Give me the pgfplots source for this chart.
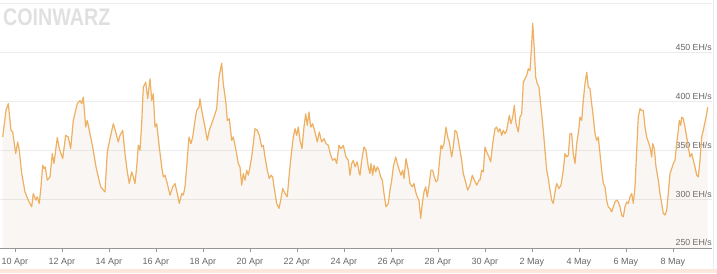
\documentclass[border=0pt]{standalone}
\usepackage{pgfplots}
\pgfplotsset{compat=1.18}
\usepackage{pgfplotstable}
\usepackage{fontspec}
\setmainfont{Liberation Sans}
\definecolor{linec}{RGB}{238,176,98}
\definecolor{fillc}{RGB}{190,160,130}
\definecolor{gridc}{RGB}{236,236,236}
\definecolor{axisc}{RGB}{150,150,150}
\definecolor{labc}{RGB}{102,102,102}
\definecolor{peach}{RGB}{251,231,220}
\pgfplotstableread{
d v
-0.523 363.6
-0.383 390.8
-0.285 397.7
-0.170 370.4
-0.098 368.7
0.030 346.6
0.115 358.5
0.183 350.0
0.285 326.5
0.426 307.4
0.566 299.0
0.711 292.1
0.779 305.8
0.881 299.0
0.949 302.3
1.034 295.6
1.106 312.6
1.179 334.7
1.247 331.3
1.289 333.0
1.374 319.4
1.489 322.8
1.587 346.6
1.660 336.4
1.800 363.0
1.885 351.7
2.030 341.5
2.157 365.3
2.268 363.6
2.370 351.7
2.481 380.6
2.651 397.7
2.766 401.0
2.838 397.7
2.906 404.4
3.009 373.8
3.077 380.6
3.191 367.0
3.306 353.4
3.447 333.0
3.545 322.8
3.647 312.6
3.830 307.4
3.928 348.3
4.043 361.9
4.183 377.2
4.285 368.7
4.396 358.5
4.468 365.3
4.583 370.4
4.681 346.6
4.779 327.9
4.864 316.0
4.966 327.9
5.034 322.8
5.106 316.0
5.179 333.0
5.247 355.1
5.319 350.0
5.391 377.2
5.460 414.6
5.562 419.7
5.647 402.8
5.745 423.2
5.817 401.0
5.885 407.9
5.957 373.8
6.030 377.2
6.140 353.4
6.243 333.0
6.311 322.8
6.383 324.5
6.481 316.0
6.596 304.1
6.711 312.6
6.809 316.0
6.906 305.8
6.991 295.6
7.094 305.8
7.162 304.1
7.234 312.6
7.306 333.0
7.404 363.6
7.489 356.8
7.562 363.6
7.660 380.6
7.732 390.8
7.830 394.2
7.872 402.8
7.945 390.8
8.085 373.8
8.183 360.2
8.268 370.4
8.370 377.2
8.468 384.0
8.583 392.6
8.681 424.8
8.796 439.1
8.864 418.1
8.979 397.7
9.034 380.6
9.119 382.3
9.221 360.2
9.289 363.6
9.404 350.0
9.502 336.4
9.574 333.0
9.647 314.3
9.715 326.2
9.787 319.4
9.860 329.6
9.928 324.5
10.000 333.0
10.072 343.2
10.140 356.8
10.213 372.1
10.311 370.4
10.396 365.3
10.498 353.4
10.566 355.1
10.638 343.2
10.736 329.6
10.821 321.1
10.894 324.5
10.966 322.8
11.034 310.9
11.136 295.6
11.234 290.5
11.306 299.0
11.391 310.9
11.489 305.8
11.587 302.3
11.672 326.2
11.745 343.2
11.843 363.6
11.915 372.1
11.987 365.3
12.055 373.8
12.128 360.2
12.213 351.7
12.298 373.8
12.370 387.4
12.438 375.5
12.511 389.1
12.583 373.8
12.668 377.2
12.766 368.7
12.864 358.5
12.949 368.7
13.051 358.5
13.149 361.9
13.234 356.8
13.332 355.1
13.434 344.9
13.519 339.8
13.617 341.5
13.689 336.4
13.787 355.1
13.872 351.7
13.970 355.1
14.085 343.2
14.183 339.8
14.255 324.5
14.328 336.4
14.396 339.8
14.468 333.0
14.566 338.1
14.651 326.2
14.681 324.5
14.753 339.8
14.851 353.4
14.936 350.0
15.034 333.0
15.106 326.2
15.149 336.4
15.221 324.5
15.277 334.7
15.349 327.9
15.417 333.0
15.489 329.6
15.562 322.8
15.630 319.4
15.702 305.8
15.787 292.1
15.885 295.6
15.957 309.2
16.030 319.4
16.098 333.0
16.200 343.2
16.268 336.4
16.353 329.6
16.426 324.5
16.498 329.6
16.553 321.1
16.638 341.5
16.736 329.6
16.809 316.0
16.906 312.6
16.979 316.0
17.051 307.4
17.119 302.3
17.191 299.0
17.264 280.3
17.332 295.6
17.404 307.4
17.477 312.6
17.545 302.3
17.630 316.0
17.702 329.6
17.774 329.6
17.843 322.8
17.915 317.7
17.987 319.4
18.055 336.4
18.128 355.1
18.183 351.7
18.255 356.8
18.340 373.8
18.413 363.6
18.481 358.5
18.583 343.2
18.651 353.4
18.723 370.4
18.796 368.7
18.864 360.2
18.936 350.0
19.009 339.8
19.077 326.2
19.191 316.0
19.264 309.2
19.362 314.3
19.460 324.5
19.545 319.4
19.647 314.3
19.745 319.4
19.787 319.4
19.860 329.6
19.928 327.9
20.000 353.4
20.072 348.3
20.170 343.2
20.243 338.1
20.328 356.8
20.426 372.1
20.498 373.8
20.566 368.7
20.638 372.1
20.711 365.3
20.779 370.4
20.851 367.0
20.923 370.4
21.034 385.7
21.106 377.2
21.179 384.0
21.247 395.9
21.319 377.2
21.417 368.7
21.489 384.0
21.562 387.4
21.630 419.7
21.702 423.2
21.774 426.5
21.843 433.4
21.915 431.6
21.987 458.9
22.030 479.9
22.085 458.9
22.157 424.8
22.226 418.1
22.298 414.6
22.383 394.2
22.481 370.4
22.553 350.0
22.626 329.6
22.694 321.1
22.766 309.2
22.838 299.0
22.906 295.6
22.979 307.4
23.051 316.0
23.149 310.9
23.234 314.3
23.332 329.6
23.404 346.6
23.477 343.2
23.545 344.9
23.617 367.0
23.689 367.0
23.757 346.6
23.830 336.4
23.902 356.8
23.987 370.4
24.043 384.0
24.115 380.6
24.183 401.0
24.255 418.1
24.328 429.9
24.396 414.6
24.468 413.0
24.540 397.7
24.609 384.0
24.681 367.0
24.753 360.2
24.821 363.6
24.894 346.6
24.966 329.6
25.034 316.0
25.106 312.6
25.177 299.0
25.245 292.1
25.319 290.5
25.391 287.0
25.460 292.1
25.532 297.2
25.604 299.0
25.672 297.2
25.745 292.1
25.817 283.7
25.885 281.9
25.957 292.1
26.030 297.2
26.098 295.6
26.170 302.3
26.243 305.8
26.311 295.6
26.383 312.6
26.455 350.0
26.523 384.0
26.596 392.6
26.668 390.8
26.736 390.8
26.809 373.8
26.881 363.6
26.949 358.5
27.021 353.4
27.094 343.2
27.136 356.8
27.204 351.7
27.277 333.0
27.374 319.4
27.447 305.8
27.519 295.6
27.587 285.4
27.660 283.7
27.732 288.8
27.800 305.8
27.872 326.2
27.945 331.3
28.013 336.4
28.085 339.8
28.157 356.8
28.226 370.4
28.268 380.6
28.328 375.5
28.370 384.0
28.438 382.3
28.511 373.8
28.583 363.6
28.651 353.4
28.723 343.2
28.796 346.6
28.864 339.8
28.936 333.0
29.009 324.5
29.077 322.8
29.149 339.8
29.221 363.6
29.289 370.4
29.362 378.9
29.434 387.4
29.477 394.2
}\hashdata
\begin{document}
\begin{tikzpicture}[x=1pt,y=1pt]
\path[use as bounding box] (0,-25) rectangle (717,248);
\fill[peach] (0,-25) rectangle (717,-20.5);
\draw[gridc,line width=0.6pt] (713,-20.5) -- (713,248);
\node[anchor=west,inner sep=0pt,text=black!12,font=\bfseries\fontsize{24}{24}\selectfont,xscale=0.82] at (3,230.5) {COINWARZ};
\begin{axis}[
  at={(0,0)}, anchor=south west,
  scale only axis, width=712pt, height=244.3pt,
  xmin=-0.638, xmax=29.66, ymin=250, ymax=500,
  axis x line*=bottom, axis y line*=right,
  y axis line style={draw=none},
  x axis line style={draw=axisc,line width=0.7pt},
  ytick={250,300,350,400,450,500},
  yticklabels={250 EH/s,300 EH/s,350 EH/s,400 EH/s,450 EH/s,},
  ytick style={draw=none},
  yticklabel style={anchor=base east,inner sep=0pt,xshift=-4pt,yshift=2pt,font=\fontsize{8.8}{10}\selectfont,text=labc},
  xtick={0,2,...,28},
  xticklabels={10 Apr,12 Apr,14 Apr,16 Apr,18 Apr,20 Apr,22 Apr,24 Apr,26 Apr,28 Apr,30 Apr,2 May,4 May,6 May,8 May},
  xtick style={draw=axisc,line width=0.7pt},
  tick align=outside, major tick length=4pt,
  xticklabel style={font=\fontsize{9}{10}\selectfont,text=labc,inner sep=0pt,yshift=-6pt},
  ymajorgrids, grid style={gridc,line width=0.7pt},
  clip=true,
]
\addplot[draw=none,fill=fillc,fill opacity=0.09] table[x=d,y=v]{\hashdata} \closedcycle;
\addplot[linec,line width=1.2pt,line join=round] table[x=d,y=v]{\hashdata};
\end{axis}
\end{tikzpicture}
\end{document}
